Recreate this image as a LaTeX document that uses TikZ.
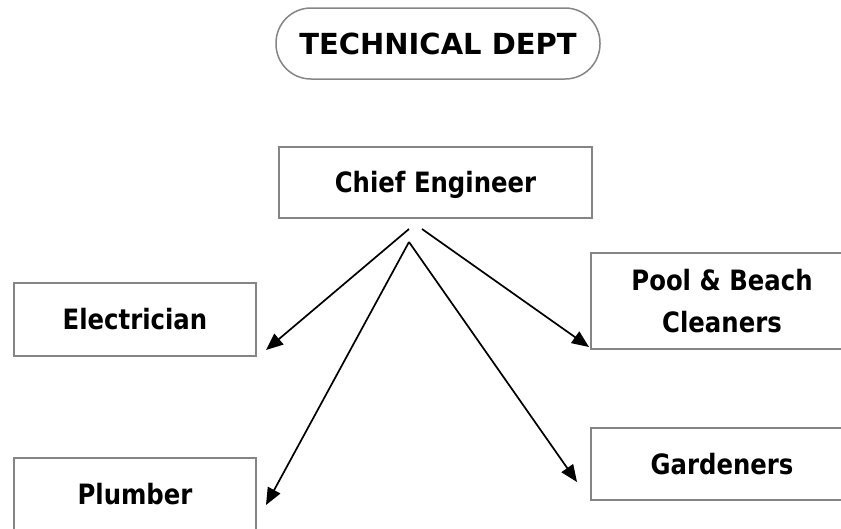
\documentclass[tikz,border=0pt]{standalone}
\usepackage{fontspec}
\usetikzlibrary{arrows.meta}
\newfontfamily\bodyfont[FakeStretch=0.87]{DejaVu Sans}
\newfontfamily\titlefont{DejaVu Sans}
\definecolor{boxgray}{HTML}{858585}
\begin{document}
\begin{tikzpicture}[x=1pt,y=-1pt,
  box/.style={draw=boxgray, line width=1.8pt, rectangle, inner sep=0pt,
    font={\bodyfont\bfseries\fontsize{28}{42}\selectfont}, align=center},
  capbox/.style={box, text height=20pt, text depth=0pt},
  conn/.style={line width=1.7pt, -{Triangle[length=17pt,width=14pt]}}]
\useasboundingbox (0,0) rectangle (841,528);
\clip (0,0) rectangle (841,528);
\node[draw=boxgray, line width=1.5pt, rounded corners=35pt, inner sep=0pt,
  minimum width=324pt, minimum height=71pt, text height=21pt, text depth=0pt,
  font={\titlefont\bfseries\fontsize{29}{34}\selectfont}] (title) at (438,43.5) {TECHNICAL DEPT};
\node[capbox, minimum width=313pt, minimum height=71pt] (chief) at (435.5,182.5) {Chief Engineer};
\node[capbox, minimum width=242pt, minimum height=73pt] (elec) at (135,319.5) {Electrician};
\node[capbox, minimum width=242pt, minimum height=73pt] (plumb) at (135,494.5) {Plumber};
\node[box, minimum width=262pt, minimum height=96pt] (pool) at (722,301) {Pool \& Beach\\Cleaners};
\node[capbox, minimum width=262pt, minimum height=72pt] (gard) at (722,464) {Gardeners};
\coordinate (sE) at (409,229);
\coordinate (sP) at (422,229);
\coordinate (apex) at (409,242);
\coordinate (tE) at (266,350);
\coordinate (tPool) at (589,347);
\coordinate (tPl) at (266,505);
\coordinate (tG) at (577,482);
\draw[conn] (sE) -- (tE);
\draw[conn] (sP) -- (tPool);
\draw[conn] (apex) -- (tPl);
\draw[conn] (apex) -- (tG);
\end{tikzpicture}
\end{document}
